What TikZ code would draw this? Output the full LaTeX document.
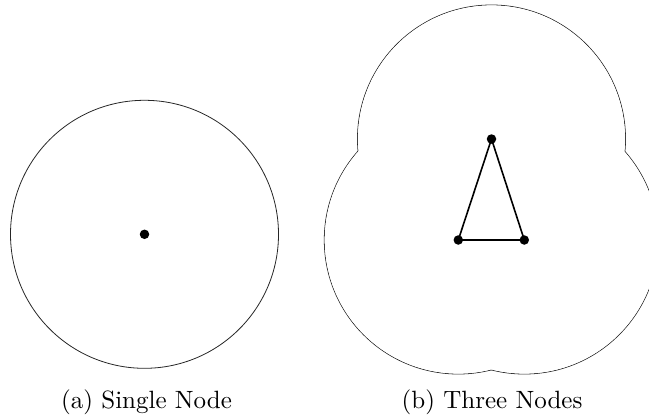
\documentclass[tikz,border=0pt]{standalone}
\usepackage{fontspec}
\newfontfamily\capfont{lmroman10-regular.otf}
\newcommand\mycapstyle{\capfont\fontsize{25}{30}\selectfont}
\begin{document}
\begin{tikzpicture}[x=1pt,y=-1pt,
  nodedot/.style={circle,fill=black,draw=none,minimum size=9.5pt,inner sep=0pt},
  rangeline/.style={draw=black!85,line width=0.8pt},
  linkline/.style={draw=black,line width=1.6pt},
  captext/.style={font=\mycapstyle,anchor=base,inner sep=0pt}]
\useasboundingbox (0,0) rectangle (649,418);
\clip (0,0) rectangle (649,418);
% (a) single node
\node[nodedot] (s) at (144.5,234.3) {};
\draw[rangeline] (s.center) circle[radius=134pt];
% (b) three nodes
\coordinate (tp) at (491.5,139);
\coordinate (lp) at (458.3,240);
\coordinate (rp) at (524.3,240);
\foreach \p in {tp,lp,rp} \draw[rangeline] (\p) circle[radius=134pt];
\foreach \p in {tp,lp,rp} \fill[white] (\p) circle[radius=133.6pt];
\node[nodedot] (t) at (tp) {};
\node[nodedot] (l) at (lp) {};
\node[nodedot] (r) at (rp) {};
\draw[linkline] (t.center) -- (l.center) -- (r.center) -- cycle;
% captions
\node[captext] (ca) at (146.5,408) {(a) Single Node};
\node[captext] (cb) at (492,408) {(b) Three Nodes};
\end{tikzpicture}
\end{document}
